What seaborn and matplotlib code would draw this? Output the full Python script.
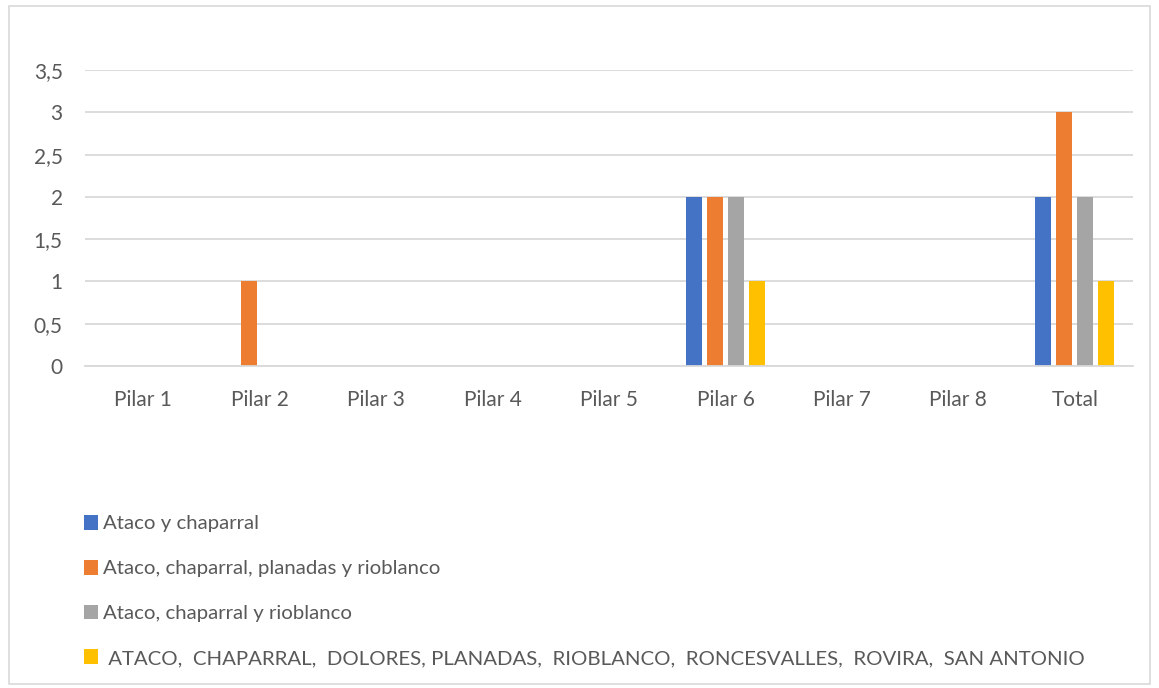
# Pilares por municipio - barras agrupadas
import pandas as pd
import matplotlib.pyplot as plt
import seaborn as sns
from matplotlib.patches import Rectangle

categorias = ["Pilar 1", "Pilar 2", "Pilar 3", "Pilar 4", "Pilar 5",
              "Pilar 6", "Pilar 7", "Pilar 8", "Total"]
series = ["Ataco y chaparral",
          "Ataco, chaparral, planadas y rioblanco",
          "Ataco, chaparral y rioblanco",
          " ATACO,  CHAPARRAL,  DOLORES, PLANADAS,  RIOBLANCO,  RONCESVALLES,  ROVIRA,  SAN ANTONIO"]
ataco_chaparral = [0, 0, 0, 0, 0, 2, 0, 0, 2]
ataco_chap_plan_rio = [0, 1, 0, 0, 0, 2, 0, 0, 3]
ataco_chap_rio = [0, 0, 0, 0, 0, 2, 0, 0, 2]
todos = [0, 0, 0, 0, 0, 1, 0, 0, 1]
colores = ["#4472C4", "#ED7D31", "#A5A5A5", "#FFC000"]
y_ticks = [0, 0.5, 1, 1.5, 2, 2.5, 3, 3.5]
y_labels = ["0", "0,5", "1", "1,5", "2", "2,5", "3", "3,5"]

valores = [ataco_chaparral, ataco_chap_plan_rio, ataco_chap_rio, todos]
df = pd.concat([pd.DataFrame({"pilar": categorias, "serie": s, "valor": v})
                for s, v in zip(series, valores)], ignore_index=True)

sns.set_style("white")
plt.rcParams['font.family'] = ['Lato', 'DejaVu Sans']
texto = "#595959"
grid = "#D9D9D9"

fig = plt.figure(figsize=(11.59, 6.88), dpi=100)
ax = fig.add_axes([0.0733, 0.468, 0.9043, 0.430])
sns.barplot(data=df, x="pilar", y="valor", hue="serie", order=categorias,
            hue_order=series, palette=colores, width=0.72, gap=0.24,
            saturation=1, linewidth=0, ax=ax, legend=True)

ax.set_ylim(0, 3.5)
ax.set_yticks(y_ticks)
ax.set_yticklabels(y_labels)
ax.yaxis.grid(True, color=grid, linewidth=1.3)
ax.set_axisbelow(True)
ax.set_xlabel("")
ax.set_ylabel("")
for s in ["top", "left", "right"]:
    ax.spines[s].set_visible(False)
ax.spines["bottom"].set_color(grid)
ax.spines["bottom"].set_linewidth(1.3)
ax.tick_params(axis="both", length=0, labelsize=15, labelcolor=texto)
ax.tick_params(axis="x", pad=17)
ax.tick_params(axis="y", pad=16)

handles, labels = ax.get_legend_handles_labels()
ax.get_legend().remove()
fig.legend(handles, labels, loc="upper left", bbox_to_anchor=(0.0725, 0.252),
           frameon=False, fontsize=14.7, labelcolor=texto, handlelength=0.7,
           handleheight=0.75, handletextpad=0.25, labelspacing=1.34,
           borderpad=0, borderaxespad=0)

fig.patches.append(Rectangle((0.008, 0.006), 0.984, 0.985, transform=fig.transFigure,
                             fill=False, edgecolor=grid, linewidth=1.2))
fig.savefig("out.png", dpi=100)
